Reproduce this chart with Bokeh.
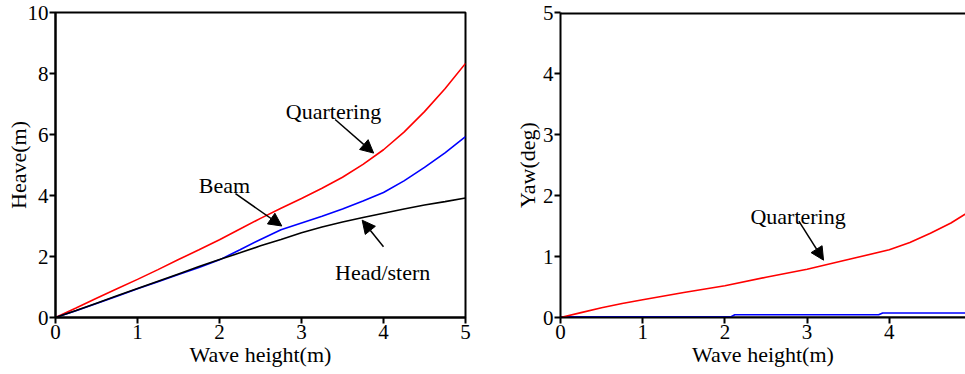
from bokeh.plotting import figure
from bokeh.models import Range1d, Label, Arrow, NormalHead, Span
from bokeh.layouts import row
from bokeh.embed import file_html
from bokeh.resources import INLINE

FONT = "Liberation Serif"

# ---- Left panel: Heave (m) vs wave height (m)
wave_x = [0, 0.25, 0.5, 0.75, 1.0, 1.25, 1.5, 1.75, 2.0, 2.25, 2.5, 2.75,
          3.0, 3.25, 3.5, 3.75, 4.0, 4.25, 4.5, 4.75, 5.0]
heave_quartering = [0, 0.31, 0.63, 0.94, 1.25, 1.57, 1.9, 2.22, 2.55, 2.9, 3.25, 3.58,
                    3.9, 4.24, 4.6, 5.02, 5.5, 6.08, 6.75, 7.5, 8.33]
heave_beam = [0, 0.22, 0.46, 0.7, 0.94, 1.17, 1.41, 1.64, 1.89, 2.22, 2.56, 2.88,
              3.1, 3.32, 3.56, 3.82, 4.1, 4.48, 4.92, 5.4, 5.93]
heave_head = [0, 0.23, 0.47, 0.71, 0.95, 1.19, 1.43, 1.67, 1.9, 2.12, 2.35, 2.56,
              2.78, 2.97, 3.13, 3.28, 3.42, 3.56, 3.69, 3.8, 3.92]

# ---- Right panel: Yaw (deg) vs wave height (m)
yaw_x = [0, 0.25, 0.5, 0.75, 1.0, 1.5, 2.0, 2.5, 3.0, 3.5, 4.0, 4.25, 4.5, 4.75, 5.0]
yaw_quartering = [0, 0.08, 0.16, 0.23, 0.29, 0.41, 0.52, 0.66, 0.79, 0.95, 1.11, 1.23,
                  1.38, 1.55, 1.76]
yaw_beam_x = [0, 2.07, 2.12, 3.87, 3.92, 5.0]
yaw_beam = [0.01, 0.01, 0.045, 0.045, 0.075, 0.075]
yaw_head_x = [0, 5.0]
yaw_head = [0, 0]

x_ticks = [0, 1, 2, 3, 4, 5]
heave_ticks = [0, 2, 4, 6, 8, 10]
yaw_ticks = [0, 1, 2, 3, 4, 5]


def style(p, xt, yt, xlabel, ylabel):
    p.xaxis.ticker = xt
    p.yaxis.ticker = yt
    p.xgrid.visible = False
    p.ygrid.visible = False
    for ax in (p.xaxis[0], p.yaxis[0]):
        ax.axis_line_width = 2
        ax.axis_line_color = "black"
        ax.major_tick_line_width = 2
        ax.major_tick_line_color = "black"
        ax.major_tick_in = 0
        ax.major_tick_out = 6
        ax.minor_tick_line_color = None
        ax.major_label_text_font = FONT
        ax.major_label_text_font_size = "21px"
        ax.major_label_text_color = "black"
        ax.axis_label_text_font = FONT
        ax.axis_label_text_font_size = "22px"
        ax.axis_label_text_font_style = "normal"
        ax.axis_label_text_color = "black"
        ax.major_label_standoff = 1
        ax.axis_label_standoff = 0
    p.xaxis.axis_label = xlabel
    p.yaxis.axis_label = ylabel


def label(p, x, y, t):
    p.add_layout(Label(x=x, y=y, text=t, text_font=FONT, text_font_size="22px",
                       text_align="center", text_baseline="alphabetic",
                       text_color="black"))


def arrow(p, x0, y0, x1, y1):
    p.add_layout(Arrow(end=NormalHead(size=13, fill_color="black", line_color="black"),
                       x_start=x0, y_start=y0, x_end=x1, y_end=y1,
                       line_width=1.5, line_color="black"))


p1 = figure(width=500, height=374, output_backend="svg", toolbar_location=None,
            x_range=Range1d(0, 5), y_range=Range1d(0, 10),
            min_border_left=55, min_border_right=35, min_border_top=12, min_border_bottom=55)
style(p1, x_ticks, heave_ticks, "Wave height(m)", "Heave(m)")
p1.yaxis.axis_label_standoff = -6
p1.outline_line_color = "black"
p1.outline_line_width = 2
p1.line(wave_x, heave_quartering, line_color="red", line_width=1.6)
p1.line(wave_x, heave_beam, line_color="blue", line_width=1.6)
p1.line(wave_x, heave_head, line_color="black", line_width=1.6)
label(p1, 3.39, 6.77, "Quartering")
arrow(p1, 3.41, 6.49, 3.88, 5.39)
label(p1, 2.06, 4.32, "Beam")
arrow(p1, 2.195, 4.06, 2.76, 3.0)
label(p1, 3.99, 1.46, "Head/stern")
arrow(p1, 4.0, 2.32, 3.74, 3.19)

p2 = figure(width=465, height=374, output_backend="svg", toolbar_location=None,
            x_range=Range1d(0, 4.927), y_range=Range1d(0, 5),
            min_border_left=60, min_border_right=0, min_border_top=11, min_border_bottom=57)
style(p2, x_ticks, yaw_ticks, "Wave height(m)", "Yaw(deg)")
p2.outline_line_color = None
p2.add_layout(Span(location=5, dimension="width", line_color="black", line_width=4))
p2.line(yaw_head_x, yaw_head, line_color="black", line_width=2)
p2.line(yaw_beam_x, yaw_beam, line_color="blue", line_width=1.6)
p2.line(yaw_x, yaw_quartering, line_color="red", line_width=1.6)
label(p2, 2.89, 1.66, "Quartering")
arrow(p2, 2.90, 1.58, 3.2, 0.94)

layout = row(p1, p2)
open("out.html", "w").write(file_html(layout, INLINE))
